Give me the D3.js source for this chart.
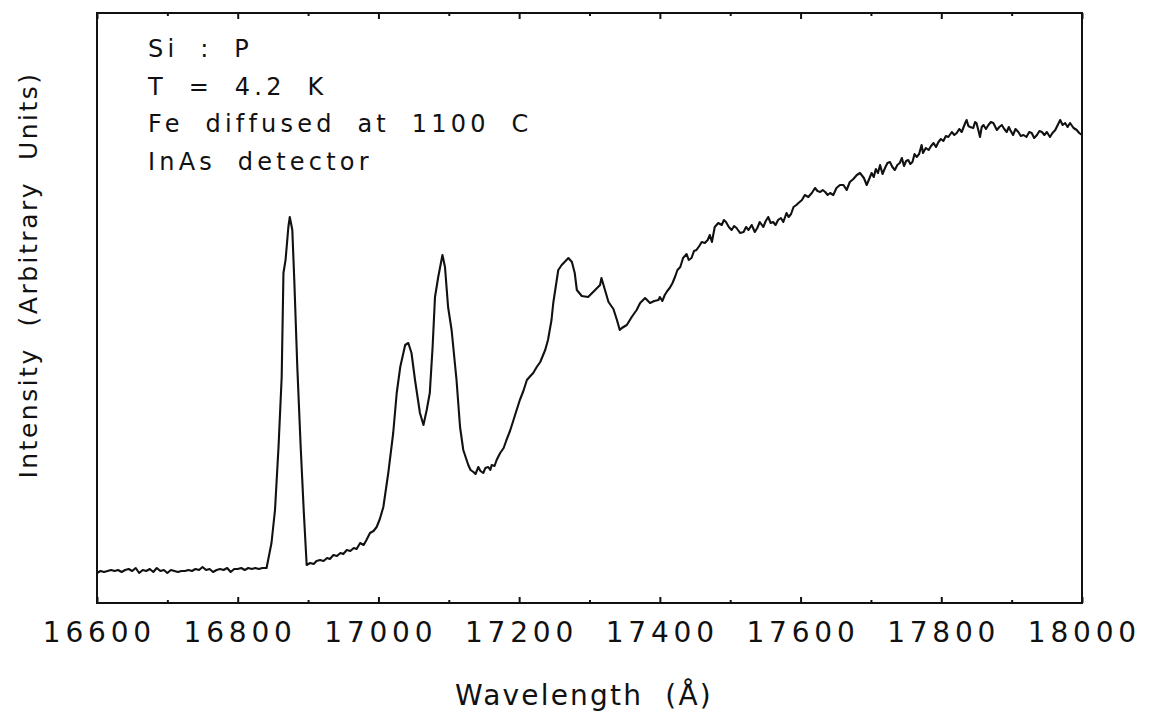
<!DOCTYPE html>
<html>
<head>
<meta charset="utf-8">
<script src="https://cdn.jsdelivr.net/npm/d3@7/dist/d3.min.js"></script>
<style>
  html, body { margin: 0; padding: 0; background: #fff; }
  svg { display: block; }
  text { font-family: "DejaVu Sans", sans-serif; fill: #111; }
</style>
</head>
<body>
<svg id="chart" width="1155" height="718"></svg>
<script>
// ---- data: [wavelength (Å), intensity (arb.)] ----
const spectrum = [
  [16600,30],[16605,32],[16610,31],[16615,32],[16620,33],[16625,32],[16630,33],[16635,31],[16640,33],[16645,34],
  [16650,32],[16655,35],[16660,30],[16665,33],[16670,32],[16675,34],[16680,31],[16685,35],[16690,32],[16695,33],
  [16700,30],[16705,33],[16710,32],[16715,31],[16720,32],[16725,32],[16730,33],[16735,32],[16740,34],[16745,33],
  [16750,36],[16755,33],[16760,34],[16765,31],[16770,33],[16775,34],[16780,33],[16785,35],[16790,31],[16795,34],
  [16800,34],[16805,35],[16810,33],[16815,35],[16820,34],[16825,35],[16830,34],[16835,35],[16841,35],
  [16848,60],[16853,93],[16858,156],[16862.5,226],[16865,330],[16868,343],[16872,376],[16874,386],[16877.6,373],
  [16880.4,323],[16884.7,236],[16889.5,156],[16894,90],[16898,38],
  [16903,40],[16908,39],[16912,42],[16917,43],[16922,42],[16927,45],[16931,44],[16936,48],[16941,47],[16946,50],
  [16950,49],[16955,53],[16960,52],[16965,55],[16969,54],[16974,60],[16979,58],[16983,63],[16988,70],[16993,72],[16997.5,76],
  [17002,84],[17007,96],[17014,130],[17021,170],[17026,210],[17031,236],[17038,258],[17042.5,260],[17047,250],[17052,223],
  [17059,190],[17064,178],[17068.6,193],[17073,210],[17077,256],[17080.4,306],[17085,326],[17091,348],[17094.6,336],[17099,296],
  [17104,273],[17111,223],[17116,176],[17120.6,153],[17127.7,138],[17131,133],[17135,131],[17138,129],[17142,136],[17145,132],
  [17149,130],[17152,135],[17156,136],[17159,133],[17161,138],[17165,137],[17168,143],[17173,150],[17178,155],[17182,163],
  [17187,172],[17192,183],[17196,192],[17201,203],[17206,212],[17211,223],[17216,227],[17220,230],[17225,236],[17230,241],
  [17237,253],[17241,263],[17246,283],[17248.5,300],[17255.6,333],[17260.5,338],[17270,345],[17275,341],[17279,330],[17282,313],
  [17289,307],[17298,306],[17308,313],[17315,318],[17317,325],[17322,313],[17327,301],[17334,294],[17339,283],[17343,273],
  [17346,275],[17353,278],[17360,286],[17367,293],[17372,300],[17379,305],[17386,300],[17392,302],[17398,303],
  [17400,306],[17403.5,302],[17407,308],[17410.5,312],[17414,315],[17418,320],[17421.5,326],[17425,333],[17429,336],[17433,345],
  [17438,349],[17441,343],[17445,345],[17448.5,352],[17452,353],[17456,357],[17459.5,361],[17464,360],[17468,363],[17471,368],
  [17474,361],[17478,376],[17483,380],[17488,378],[17491,383],[17494,381],[17498,376],[17502,373],[17505.5,377],[17509,375],
  [17514,370],[17519,371],[17522.5,376],[17526,373],[17530.5,378],[17535,371],[17538.5,375],[17542,381],[17547,376],[17550.5,382],
  [17554,386],[17557.5,380],[17561,381],[17564.5,378],[17568,383],[17572,385],[17575.5,381],[17580,390],[17583,386],[17586.5,389],
  [17590,396],[17594,398],[17597,400],[17602,403],[17606,408],[17611,406],[17616,410],[17620.5,415],[17624,412],[17628,411],
  [17631.5,413],[17635,411],[17638.5,408],[17642,410],[17646.5,408],[17651,415],[17656,418],[17661,418],[17665.5,413],[17670,421],
  [17675,424],[17680,428],[17684.5,430],[17690,425],[17694,418],[17697.5,424],[17701,430],[17704,426],[17707,434],[17710,430],
  [17713,438],[17716.5,429],[17720,435],[17723.5,440],[17727,441],[17730.5,436],[17734,433],[17737.5,438],[17741,440],[17744,445],
  [17747,437],[17750,442],[17753,443],[17756,439],[17759,441],[17762,449],[17765,446],[17768.5,449],[17772,458],[17774,450],
  [17778,455],[17782,453],[17785.5,457],[17789,460],[17792.5,456],[17796,461],[17799.5,464],[17803,462],[17806.5,467],[17810,466],
  [17815,471],[17818.5,468],[17822,470],[17825.5,474],[17829,471],[17834,480],[17836,483],[17838.5,477],[17841,476],[17845.5,475],
  [17848,481],[17850,480],[17853,472],[17855,466],[17857.5,476],[17860,478],[17863.5,474],[17867,478],[17870.5,481],[17874,480],
  [17879,473],[17882.5,476],[17886,478],[17889.5,474],[17893,471],[17896,476],[17898,473],[17902,468],[17905.5,474],[17909.5,471],
  [17913,467],[17917,468],[17921,466],[17925,471],[17928.5,470],[17932,465],[17936,468],[17939.5,472],[17943,471],[17946.5,468],
  [17950,471],[17954.5,466],[17958,470],[17962,473],[17965.5,478],[17969,483],[17972.5,478],[17976,480],[17979.5,476],[17983,480],
  [17988,475],[17992.5,473],[17996,470],[18000,468]
];
const majorTicks = [16600, 16800, 17000, 17200, 17400, 17600, 17800, 18000];
const minorTicks = [16700, 16900, 17100, 17300, 17500, 17700, 17900];
const tickLabels = ["16600","16800","17000","17200","17400","17600","17800","18000"];
const annotations = ["Si : P", "T = 4.2 K", "Fe diffused at 1100 C", "InAs detector"];
const xTitle = "Wavelength  (Å)";
const yTitle = "Intensity  (Arbitrary  Units)";

// ---- layout ----
const svg = d3.select("#chart");
const L = 97, R = 1082, T = 13, B = 603;
const x = d3.scaleLinear().domain([16600, 18000]).range([L, R]);
const y = d3.scaleLinear().domain([0, 590]).range([B, T]);

// curve
svg.append("path")
  .datum(spectrum)
  .attr("fill", "none")
  .attr("stroke", "#111")
  .attr("stroke-width", 2.1)
  .attr("stroke-linejoin", "round")
  .attr("d", d3.line().x(d => x(d[0])).y(d => y(d[1])));

// axes ticks
function styleAxis(g) {
  g.select(".domain").remove();
  g.selectAll(".tick line").attr("stroke", "#111").attr("stroke-width", 2);
}
svg.append("g").attr("transform", `translate(0,${B})`)
  .call(d3.axisBottom(x).tickValues(majorTicks).tickSize(-6).tickFormat(""))
  .call(styleAxis);
svg.append("g").attr("transform", `translate(0,${B})`)
  .call(d3.axisBottom(x).tickValues(minorTicks).tickSize(-3).tickFormat(""))
  .call(styleAxis);
svg.append("g").attr("transform", `translate(0,${T})`)
  .call(d3.axisTop(x).tickValues(majorTicks).tickSize(-6).tickFormat(""))
  .call(styleAxis);
svg.append("g").attr("transform", `translate(0,${T})`)
  .call(d3.axisTop(x).tickValues(minorTicks).tickSize(-3).tickFormat(""))
  .call(styleAxis);

// frame
svg.append("rect")
  .attr("x", L).attr("y", T).attr("width", R - L).attr("height", B - T)
  .attr("fill", "none").attr("stroke", "#111").attr("stroke-width", 2);

// tick labels
svg.append("g").selectAll("text")
  .data(majorTicks)
  .join("text")
  .attr("x", d => x(d) + 2.4)
  .attr("y", 642)
  .attr("text-anchor", "middle")
  .style("font-size", "28px")
  .style("letter-spacing", "4.8px")
  .text((d, i) => tickLabels[i]);

// axis titles
svg.append("text")
  .attr("x", 584).attr("y", 705)
  .attr("text-anchor", "middle")
  .style("font-size", "28px")
  .style("letter-spacing", "2.2px")
  .style("white-space", "pre")
  .text(xTitle);

svg.append("text")
  .attr("transform", "translate(37,275) rotate(-90)")
  .attr("text-anchor", "middle")
  .style("font-size", "25px")
  .style("letter-spacing", "2.5px")
  .style("white-space", "pre")
  .text(yTitle);

// annotations
svg.append("g").selectAll("text")
  .data(annotations)
  .join("text")
  .attr("x", 148)
  .attr("y", (d, i) => 57 + i * 37.7)
  .style("font-size", "24px")
  .style("letter-spacing", "4.2px")
  .style("word-spacing", "10px")
  .text(d => d);
</script>
</body>
</html>
